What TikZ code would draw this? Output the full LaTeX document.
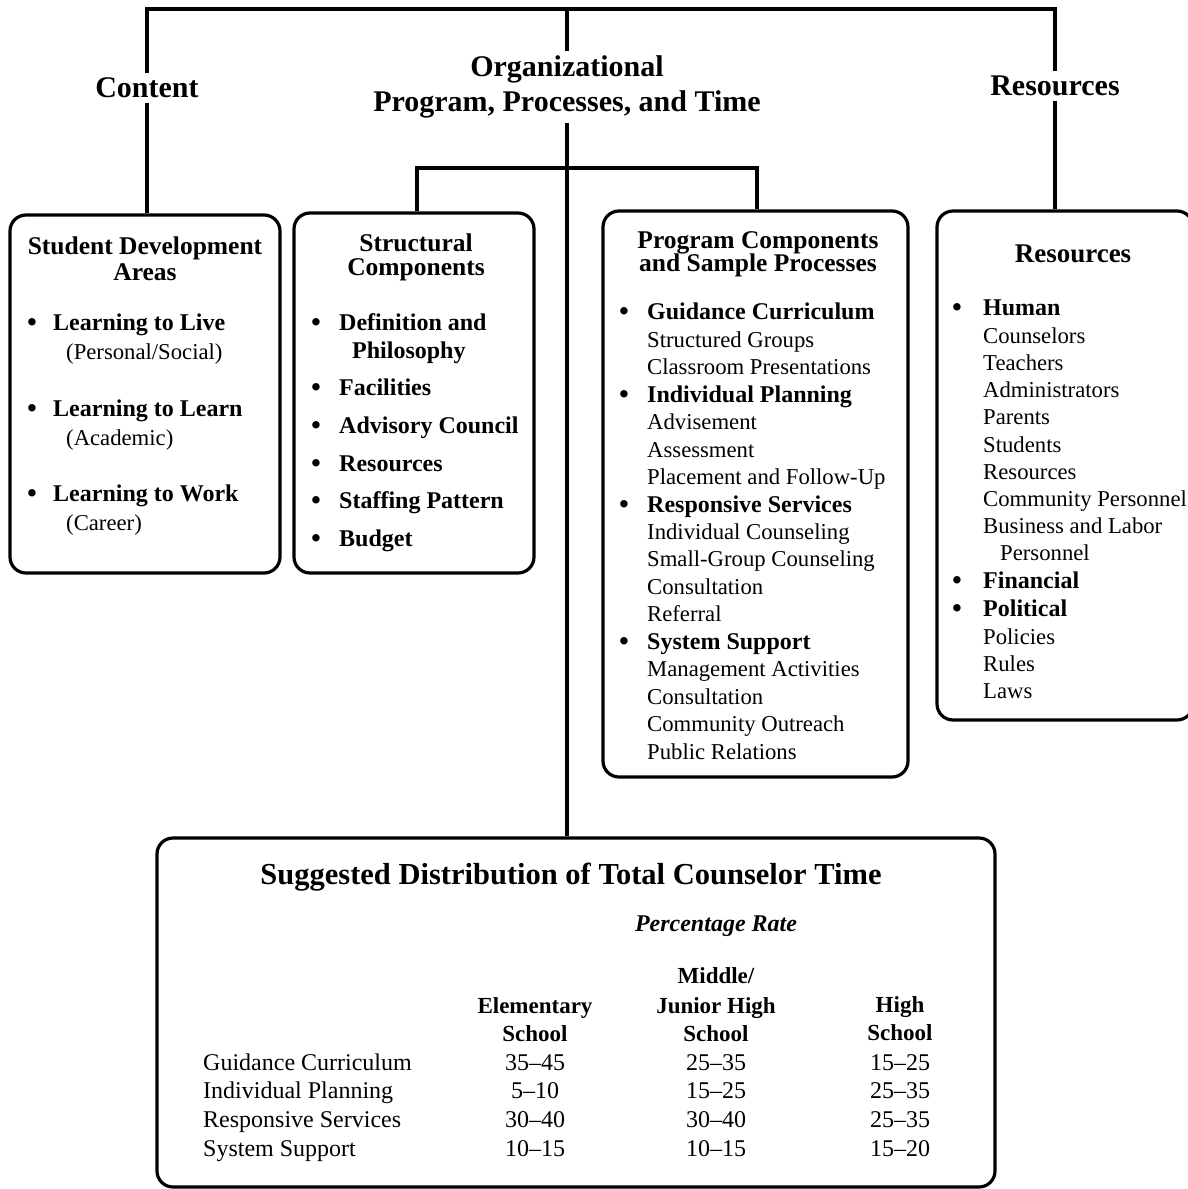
\documentclass[tikz,border=0pt]{standalone}
\usepackage{fontspec}
\setmainfont{Liberation Serif}
\begin{document}
\begin{tikzpicture}[x=1pt,y=-1pt,
  conn/.style={line width=3.2pt},
  box/.style={draw,line width=3.2pt,rounded corners=16pt,inner sep=0pt},
  toplbl/.style={font=\fontsize{30}{35}\selectfont\bfseries,align=center,inner sep=5pt},
  ttl/.style={font=\fontsize{25.5}{24}\selectfont\bfseries,anchor=base,inner sep=0pt},
  bt/.style={font=\fontsize{24}{27}\selectfont\bfseries,anchor=base west,inner sep=0pt},
  rt/.style={font=\fontsize{22.7}{27}\selectfont,anchor=base west,inner sep=0pt},
  bul/.style={font=\fontsize{31}{27}\selectfont,anchor=base,inner sep=0pt,yshift=-2pt,text height=12pt,text depth=0pt},
  bigttl/.style={font=\fontsize{30.5}{30}\selectfont\bfseries,anchor=base,inner sep=0pt},
  th/.style={font=\fontsize{23}{27}\selectfont\bfseries,anchor=base,inner sep=0pt},
  tv/.style={font=\fontsize{24}{27}\selectfont,anchor=base,inner sep=0pt},
  tl/.style={font=\fontsize{24}{27}\selectfont,anchor=base west,inner sep=0pt}]
\useasboundingbox[fill=white] (0,0) rectangle (1188,1189);

% top labels
\node[toplbl] (content) at (147,88) {Content};
\node[toplbl] (org) at (567,87) {Organizational\\Program, Processes, and Time};
\node[toplbl] (res) at (1055,86) {Resources};

% boxes
\node[box,minimum width=270pt,minimum height=358pt] (b1) at (145,394) {};
\node[box,minimum width=240pt,minimum height=360pt] (b2) at (414,393) {};
\node[box,minimum width=305pt,minimum height=566pt] (b3) at (755.5,494) {};
\node[box,minimum width=256pt,minimum height=509pt] (b4) at (1065,465.5) {};
\node[box,minimum width=838pt,minimum height=349pt] (b5) at (576,1012.5) {};

% connectors
\coordinate (tL) at (147,9);
\coordinate (tM) at (567,9);
\coordinate (tR) at (1055,9);
\coordinate (brL) at (417,168);
\coordinate (brR) at (757,168);
\draw[conn] (content.north) -- (tL) -- (tR) -- (res.north);
\draw[conn] (content.south) -- (content.south |- b1.north);
\draw[conn] (res.south) -- (res.south |- b4.north);
\draw[conn] (tM) -- (org.north);
\draw[conn] (org.south) -- (org.south |- b5.north);
\draw[conn] (brL |- b2.north) -- (brL) -- (brR) -- (brR |- b3.north);

% box 1
\node[ttl] (b1t1) at (145,254) {Student Development};
\node[ttl] (b1t2) at (145,280) {Areas};
\node[bul] (b1u1) at (32,330) {•};
\node[bt] (b1a) at (53,330) {Learning to Live};
\node[rt] (b1b) at (66,359) {(Personal/Social)};
\node[bul] (b1u2) at (32,416) {•};
\node[bt] (b1c) at (53,416) {Learning to Learn};
\node[rt] (b1d) at (66,445) {(Academic)};
\node[bul] (b1u3) at (32,501) {•};
\node[bt] (b1e) at (53,501) {Learning to Work};
\node[rt] (b1f) at (66,530) {(Career)};

% box 2
\node[ttl] (b2t1) at (416,251) {Structural};
\node[ttl] (b2t2) at (416,275) {Components};
\node[bul] (b2u1) at (316,330) {•};
\node[bt] (b2a) at (339,330) {Definition and};
\node[bt] (b2b) at (352,358) {Philosophy};
\node[bul] (b2u2) at (316,395) {•};
\node[bt] (b2c) at (339,395) {Facilities};
\node[bul] (b2u3) at (316,433) {•};
\node[bt] (b2d) at (339,433) {Advisory Council};
\node[bul] (b2u4) at (316,471) {•};
\node[bt] (b2e) at (339,471) {Resources};
\node[bul] (b2u5) at (316,508) {•};
\node[bt] (b2f) at (339,508) {Staffing Pattern};
\node[bul] (b2u6) at (316,546) {•};
\node[bt] (b2g) at (339,546) {Budget};

% box 3
\node[ttl] (b3t1) at (758,248) {Program Components};
\node[ttl] (b3t2) at (758,271) {and Sample Processes};
\node[bul] (b3u1) at (624,319) {•};
\node[bt] (b3a) at (647,319) {Guidance Curriculum};
\node[rt] (b3b) at (647,347) {Structured Groups};
\node[rt] (b3c) at (647,374) {Classroom Presentations};
\node[bul] (b3u2) at (624,402) {•};
\node[bt] (b3d) at (647,402) {Individual Planning};
\node[rt] (b3e) at (647,429) {Advisement};
\node[rt] (b3f) at (647,457) {Assessment};
\node[rt] (b3g) at (647,484) {Placement and Follow-Up};
\node[bul] (b3u3) at (624,512) {•};
\node[bt] (b3h) at (647,512) {Responsive Services};
\node[rt] (b3i) at (647,539) {Individual Counseling};
\node[rt] (b3j) at (647,566) {Small-Group Counseling};
\node[rt] (b3k) at (647,594) {Consultation};
\node[rt] (b3l) at (647,621) {Referral};
\node[bul] (b3u4) at (624,649) {•};
\node[bt] (b3m) at (647,649) {System Support};
\node[rt] (b3n) at (647,676) {Management Activities};
\node[rt] (b3o) at (647,704) {Consultation};
\node[rt] (b3p) at (647,731) {Community Outreach};
\node[rt] (b3q) at (647,759) {Public Relations};

% box 4
\node[ttl,font=\fontsize{27}{27}\selectfont\bfseries] (b4t) at (1073,262) {Resources};
\node[bul] (b4u1) at (957,315) {•};
\node[bt] (b4a) at (983,315) {Human};
\node[rt] (b4b) at (983,343) {Counselors};
\node[rt] (b4c) at (983,370) {Teachers};
\node[rt] (b4d) at (983,397) {Administrators};
\node[rt] (b4e) at (983,424) {Parents};
\node[rt] (b4f) at (983,452) {Students};
\node[rt] (b4g) at (983,479) {Resources};
\node[rt] (b4h) at (983,506) {Community Personnel};
\node[rt] (b4i) at (983,533) {Business and Labor};
\node[rt] (b4j) at (1000,560) {Personnel};
\node[bul] (b4u2) at (957,588) {•};
\node[bt] (b4k) at (983,588) {Financial};
\node[bul] (b4u3) at (957,616) {•};
\node[bt] (b4l) at (983,616) {Political};
\node[rt] (b4m) at (983,644) {Policies};
\node[rt] (b4n) at (983,671) {Rules};
\node[rt] (b4o) at (983,698) {Laws};

% box 5
\node[bigttl] (b5t) at (571,884) {Suggested Distribution of Total Counselor Time};
\node[th,font=\fontsize{24}{27}\selectfont\bfseries\itshape] (pr) at (716,931) {Percentage Rate};
\node[th] (h2a) at (716,983) {Middle/};
\node[th] (h1a) at (535,1013) {Elementary};
\node[th] (h2b) at (716,1013) {Junior High};
\node[th] (h3a) at (900,1012) {High};
\node[th] (h1b) at (535,1041) {School};
\node[th] (h2c) at (716,1041) {School};
\node[th] (h3b) at (900,1040) {School};
\node[tl] (r1) at (203,1070) {Guidance Curriculum};
\node[tl] (r2) at (203,1098) {Individual Planning};
\node[tl] (r3) at (203,1127) {Responsive Services};
\node[tl] (r4) at (203,1156) {System Support};
\node[tv] (v11) at (535,1070) {35--45};
\node[tv] (v12) at (716,1070) {25--35};
\node[tv] (v13) at (900,1070) {15--25};
\node[tv] (v21) at (535,1098) {5--10};
\node[tv] (v22) at (716,1098) {15--25};
\node[tv] (v23) at (900,1098) {25--35};
\node[tv] (v31) at (535,1127) {30--40};
\node[tv] (v32) at (716,1127) {30--40};
\node[tv] (v33) at (900,1127) {25--35};
\node[tv] (v41) at (535,1156) {10--15};
\node[tv] (v42) at (716,1156) {10--15};
\node[tv] (v43) at (900,1156) {15--20};
\end{tikzpicture}
\end{document}
